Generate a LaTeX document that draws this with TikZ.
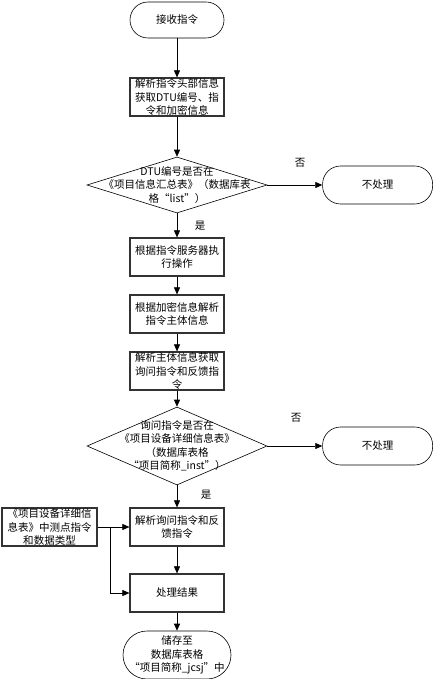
\documentclass[tikz,border=0pt]{standalone}
\usepackage{fontspec}
\setmainfont{Noto Sans CJK SC}
\usetikzlibrary{arrows.meta, positioning, shapes.geometric}

\begin{document}
\begin{tikzpicture}[x=1pt, y=-1pt,
        box/.style={rectangle, draw=black!80, line width=1.2pt, minimum width=94pt, minimum height=38pt, inner sep=0pt, align=center, font=\fontsize{10.5}{13.5}\selectfont},
        term/.style={rectangle, draw, line width=0.6pt, rounded corners=18pt, minimum width=94pt, minimum height=36pt, inner sep=0pt, align=center, font=\fontsize{10.5}{13.5}\selectfont},
        decide/.style={diamond, draw, line width=0.6pt, minimum width=180pt, minimum height=56pt, inner sep=0pt},
        dtext/.style={align=center, font=\fontsize{10.5}{13.5}\selectfont},
        lbl/.style={font=\fontsize{10.5}{12}\selectfont},
        arr/.style={-{Triangle[length=7pt, width=6pt]}, line width=0.6pt}
        ]
        \useasboundingbox (0,0) rectangle (435,679);
        \node[term]  (start) at (177,20)  {接收指令};
        \node[box]   (head)  at (177,97)  {解析指令头部信息\\获取DTU编号、指\\令和加密信息};
        \node[decide] (dtu)  at (177,185) {};
        \node[dtext] at (dtu.center) {DTU编号是否在\\《项目信息汇总表》（数据库表\\格“list”）};
        \node[term, minimum width=110pt, minimum height=38pt, right=55pt of dtu] (skip1) {不处理};
        \node[box]   (exec)  at (177,257) {根据指令服务器执\\行操作};
        \node[box]   (body)  at (177,314) {根据加密信息解析\\指令主体信息};
        \node[box]   (cmds)  at (177,371) {解析主体信息获取\\询问指令和反馈指\\令};
        \node[decide, minimum height=78pt] (ask) at (177,446) {};
        \node[dtext] at (ask.center) {询问指令是否在\\《项目设备详细信息表》\\（数据库表格\\“项目简称\_inst”）};
        \node[term, minimum width=110pt, minimum height=38pt, right=55pt of ask] (skip2) {不处理};
        \node[box]   (parse) at (177,527) {解析询问指令和反\\馈指令};
        \node[box, minimum width=95pt] (src) at (49.5,527) {《项目设备详细信\\息表》中测点指令\\和数据类型};
        \node[box]   (result) at (177,593) {处理结果};
        \node[term, minimum width=108pt, minimum height=48pt, rounded corners=24pt] (store) at (177,655) {储存至\\数据库表格\\“项目简称\_jcsj”中};
        \coordinate (fork) at (110,527);
        \draw[arr] (start) -- (head);
        \draw[arr] (head) -- (dtu);
        \draw[arr] (dtu) -- (skip1);
        \draw[arr] (dtu) -- (exec);
        \draw[arr] (exec) -- (body);
        \draw[arr] (body) -- (cmds);
        \draw[arr] (cmds) -- (ask);
        \draw[arr] (ask) -- (skip2);
        \draw[arr] (ask) -- (parse);
        \draw[arr] (src) -- (parse);
        \draw[arr] (fork) |- (result);
        \draw[arr] (parse) -- (result);
        \draw[arr] (result) -- (store);
        \node[lbl] at (300,163) {否};
        \node[lbl] at (200,226) {是};
        \node[lbl] at (296,418) {否};
        \node[lbl] at (206,495) {是};
    \end{tikzpicture}
\end{document}
